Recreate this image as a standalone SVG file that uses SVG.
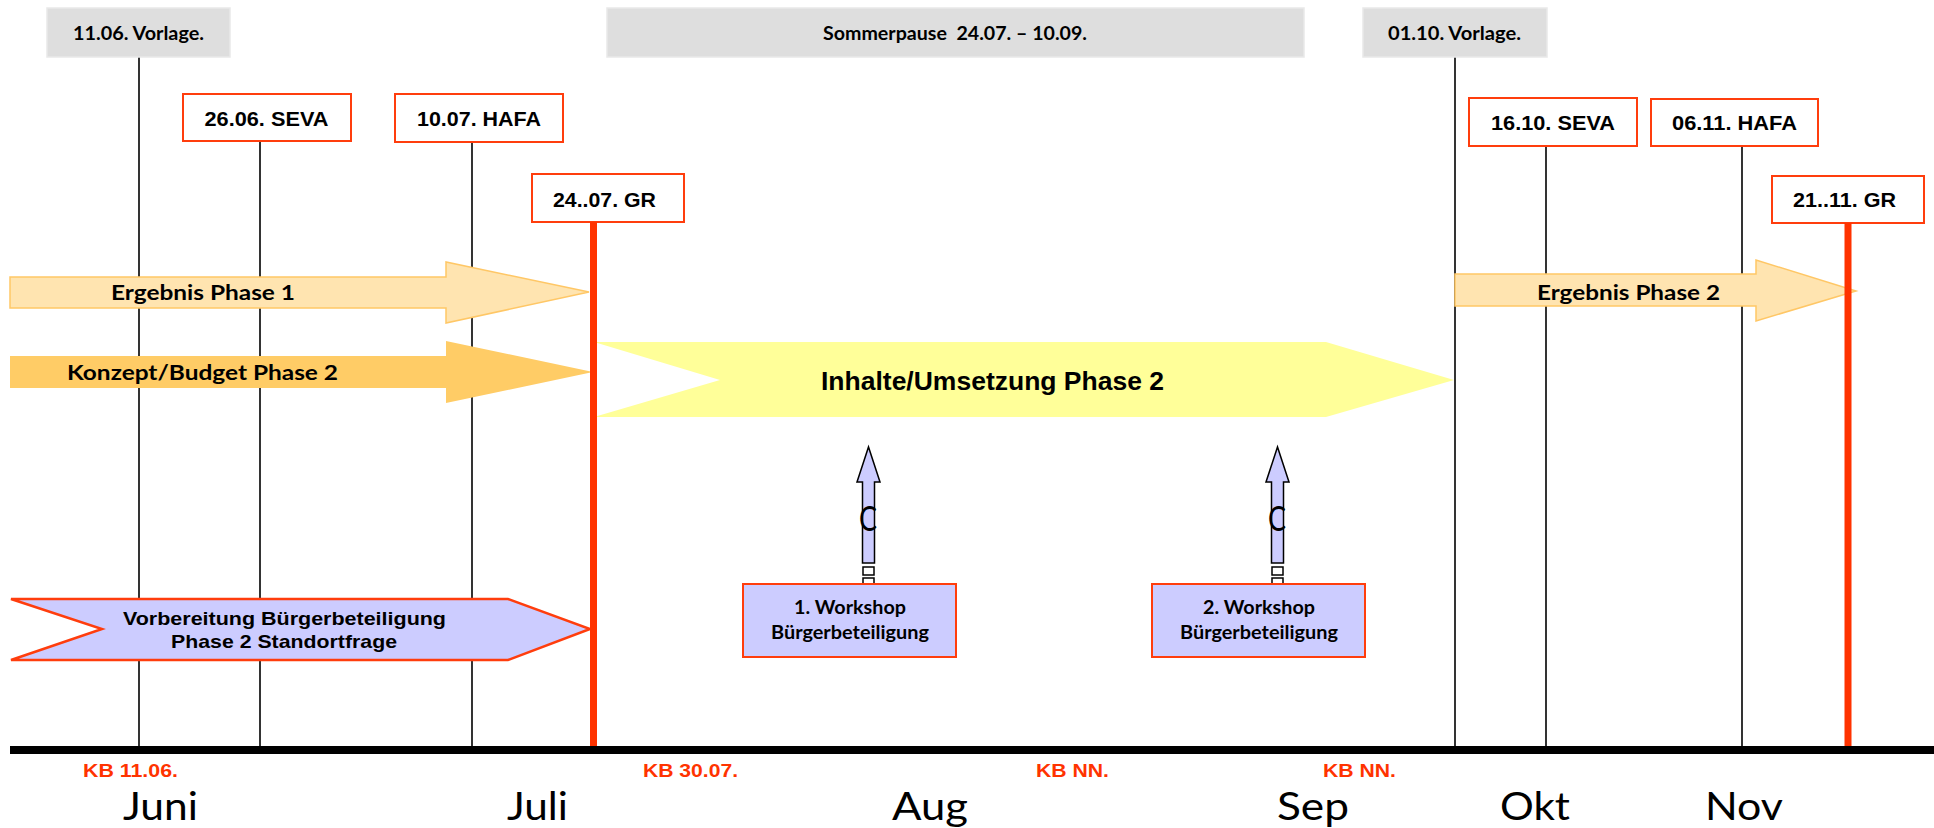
<svg xmlns="http://www.w3.org/2000/svg" width="1934" height="828" viewBox="0 0 1934 828">
<style>
.grey{fill:#dedede;stroke:#e9e9e9;stroke-width:1.5}
.redbox{fill:#ffffff;stroke:#ff3d0d;stroke-width:2}
.thin{stroke:#000;stroke-width:1.6}
.thick{stroke:#ff3300;stroke-width:7}
.lbl{font-family:"Liberation Sans",Arial,sans-serif;font-weight:bold;font-size:21px;fill:#000}
.glbl{font-family:Lato,"Open Sans",sans-serif;font-weight:bold;font-size:18px;fill:#000}
.arrlbl{font-family:Lato,"Open Sans",sans-serif;font-weight:bold;font-size:21.5px;fill:#000}
.vlbl{font-family:"Liberation Sans",Arial,sans-serif;font-weight:bold;font-size:18.5px;fill:#000}
.wlbl{font-family:Lato,"Open Sans",sans-serif;font-weight:bold;font-size:18px;fill:#000}
.kb{font-family:"Liberation Sans",Arial,sans-serif;font-weight:bold;font-size:18.5px;fill:#ff3300}
.month{font-family:Lato,"Open Sans",sans-serif;font-size:39px;fill:#000}
.cc{font-family:Lato,"Open Sans",sans-serif;font-size:34px;fill:#000}
.wbox{fill:#ccccff;stroke:#ff3d0d;stroke-width:2}
.uparr{fill:#ccccff;stroke:#000;stroke-width:1.5}
.sq{fill:#ffffff;stroke:#000;stroke-width:1.5}
</style>

<g id="connectors">
  <line class="thin" x1="139" y1="57" x2="139" y2="746"/>
  <line class="thin" x1="260" y1="142" x2="260" y2="746"/>
  <line class="thin" x1="472" y1="142" x2="472" y2="746"/>
  <line class="thin" x1="1455" y1="57" x2="1455" y2="746"/>
  <line class="thin" x1="1546" y1="146" x2="1546" y2="746"/>
  <line class="thin" x1="1742" y1="146" x2="1742" y2="746"/>
</g>

<g id="ergebnis1">
  <polygon points="10,277 446,277 446,262 589,292 446,323 446,308 10,308" fill="#ffe4b0" stroke="#ffc766" stroke-width="1.5"/>
  <text class="arrlbl" x="111" y="300" textLength="184" lengthAdjust="spacingAndGlyphs">Ergebnis Phase 1</text>
</g>

<g id="konzept">
  <polygon points="10,356 446,356 446,341 593,372 446,403 446,388 10,388" fill="#ffcc66"/>
  <text class="arrlbl" x="67" y="380" textLength="271" lengthAdjust="spacingAndGlyphs">Konzept/Budget Phase 2</text>
</g>

<g id="inhalte">
  <polygon points="594,342 1326,342 1454,380 1326,417 594,417 720,380" fill="#ffff99"/>
  <text x="821" y="390" textLength="343" lengthAdjust="spacingAndGlyphs" style="font-family:'Liberation Sans',Arial,sans-serif;font-weight:bold;font-size:25px;fill:#000">Inhalte/Umsetzung Phase 2</text>
</g>

<g id="ergebnis2">
  <polygon points="1455,274 1756,274 1756,260 1856,291 1756,321 1756,306 1455,306" fill="#ffe4b0" stroke="#ffc766" stroke-width="1.5"/>
  <text class="arrlbl" x="1537" y="300" textLength="183" lengthAdjust="spacingAndGlyphs">Ergebnis Phase 2</text>
</g>

<g id="vorbereitung">
  <polygon points="11,599 508,599 590,629 508,660 11,660 102,629" fill="#ccccff" stroke="#ff3d0d" stroke-width="2.5"/>
  <text class="vlbl"><tspan x="123" y="625" textLength="323" lengthAdjust="spacingAndGlyphs">Vorbereitung Bürgerbeteiligung</tspan><tspan x="171" y="648" textLength="226" lengthAdjust="spacingAndGlyphs">Phase 2 Standortfrage</tspan></text>
</g>

<g id="workshop1">
  <polygon class="uparr" points="862.5,563 862.5,482 857,482 868.5,447 880,482 874.5,482 874.5,563"/>
  <rect class="sq" x="863" y="567" width="11" height="8"/>
  <rect class="sq" x="863" y="578" width="11" height="6"/>
  <text class="cc" x="859" y="531" textLength="18" lengthAdjust="spacingAndGlyphs">C</text>
  <rect class="wbox" x="743" y="584" width="213" height="73"/>
  <text class="wlbl"><tspan x="794" y="614" textLength="112" lengthAdjust="spacingAndGlyphs">1. Workshop</tspan><tspan x="771" y="639" textLength="158" lengthAdjust="spacingAndGlyphs">Bürgerbeteiligung</tspan></text>
</g>

<g id="workshop2">
  <polygon class="uparr" points="1271.5,563 1271.5,482 1266,482 1277.5,447 1289,482 1283.5,482 1283.5,563"/>
  <rect class="sq" x="1272" y="567" width="11" height="8"/>
  <rect class="sq" x="1272" y="578" width="11" height="6"/>
  <text class="cc" x="1268" y="531" textLength="18" lengthAdjust="spacingAndGlyphs">C</text>
  <rect class="wbox" x="1152" y="584" width="213" height="73"/>
  <text class="wlbl"><tspan x="1203" y="614" textLength="112" lengthAdjust="spacingAndGlyphs">2. Workshop</tspan><tspan x="1180" y="639" textLength="158" lengthAdjust="spacingAndGlyphs">Bürgerbeteiligung</tspan></text>
</g>

<g id="vorlage1">
  <rect class="grey" x="47" y="8" width="183" height="49"/>
  <text class="glbl" x="73" y="40" textLength="131" lengthAdjust="spacingAndGlyphs">11.06. Vorlage.</text>
</g>
<g id="sommerpause">
  <rect class="grey" x="607" y="8" width="697" height="49"/>
  <text class="glbl" x="823" y="40" textLength="264" lengthAdjust="spacingAndGlyphs" style="white-space:pre">Sommerpause  24.07. – 10.09.</text>
</g>
<g id="vorlage2">
  <rect class="grey" x="1363" y="8" width="184" height="49"/>
  <text class="glbl" x="1388" y="40" textLength="133" lengthAdjust="spacingAndGlyphs">01.10. Vorlage.</text>
</g>

<g id="seva1">
  <rect class="redbox" x="183" y="94" width="168" height="47"/>
  <text class="lbl" x="204.5" y="126" textLength="124" lengthAdjust="spacingAndGlyphs">26.06. SEVA</text>
</g>
<g id="hafa1">
  <rect class="redbox" x="395" y="94" width="168" height="48"/>
  <text class="lbl" x="417" y="126" textLength="124" lengthAdjust="spacingAndGlyphs">10.07. HAFA</text>
</g>
<g id="gr1">
  <rect class="redbox" x="532" y="174" width="152" height="48"/>
  <text class="lbl" x="553" y="206.5" textLength="103" lengthAdjust="spacingAndGlyphs">24..07. GR</text>
  <line class="thick" x1="593.5" y1="222" x2="593.5" y2="750"/>
</g>
<g id="seva2">
  <rect class="redbox" x="1469" y="98" width="168" height="48"/>
  <text class="lbl" x="1491" y="130" textLength="124" lengthAdjust="spacingAndGlyphs">16.10. SEVA</text>
</g>
<g id="hafa2">
  <rect class="redbox" x="1651" y="99" width="167" height="47"/>
  <text class="lbl" x="1672" y="130" textLength="125" lengthAdjust="spacingAndGlyphs">06.11. HAFA</text>
</g>
<g id="gr2">
  <rect class="redbox" x="1772" y="176" width="152" height="47"/>
  <text class="lbl" x="1793" y="207" textLength="103" lengthAdjust="spacingAndGlyphs">21..11. GR</text>
  <line class="thick" x1="1848" y1="223" x2="1848" y2="750"/>
</g>

<g id="axis">
  <rect x="10" y="746" width="1924" height="8" fill="#000"/>
  <text class="kb" x="83" y="777" textLength="95" lengthAdjust="spacingAndGlyphs">KB 11.06.</text>
  <text class="kb" x="643" y="777" textLength="95" lengthAdjust="spacingAndGlyphs">KB 30.07.</text>
  <text class="kb" x="1036" y="777" textLength="73" lengthAdjust="spacingAndGlyphs">KB NN.</text>
  <text class="kb" x="1323" y="777" textLength="73" lengthAdjust="spacingAndGlyphs">KB NN.</text>
  <text class="month" x="123" y="820" textLength="75" lengthAdjust="spacingAndGlyphs">Juni</text>
  <text class="month" x="507" y="820" textLength="61" lengthAdjust="spacingAndGlyphs">Juli</text>
  <text class="month" x="892" y="820" textLength="76" lengthAdjust="spacingAndGlyphs">Aug</text>
  <text class="month" x="1277" y="820" textLength="72" lengthAdjust="spacingAndGlyphs">Sep</text>
  <text class="month" x="1500" y="820" textLength="70" lengthAdjust="spacingAndGlyphs">Okt</text>
  <text class="month" x="1705" y="820" textLength="78" lengthAdjust="spacingAndGlyphs">Nov</text>
</g>
</svg>
